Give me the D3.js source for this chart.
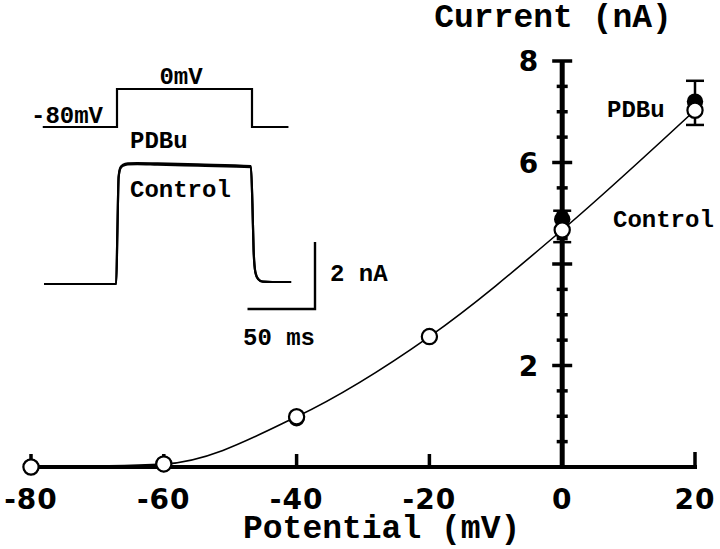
<!DOCTYPE html>
<html>
<head>
<meta charset="utf-8">
<script src="https://cdn.jsdelivr.net/npm/d3@7"></script>
<style>
  html, body { margin: 0; padding: 0; background: #fff; }
  svg { display: block; }
  .mono { font-family: "Liberation Mono", "DejaVu Sans Mono", monospace; font-weight: bold; fill: #000; }
  .tick { font-family: "DejaVu Sans", sans-serif; font-weight: bold; fill: #000; }
</style>
</head>
<body>
<svg id="chart" width="720" height="549"></svg>
<script>
// ---------------- data ----------------
const potentials = [-80, -60, -40, -20, 0, 20];                 // mV
const controlCurrent = [0, 0.06, 0.99, 2.57, 4.67, 7.03];       // nA
const pdbuCurrent    = [0, 0.06, 0.96, 2.57, 4.88, 7.20];       // nA
const controlErrLow  = [0, 0, 0, 0, 0.24, 0.29];                // nA (below)
const pdbuErrHigh    = [0, 0, 0, 0, 0.17, 0.41];                // nA (above)

const xTicks = [-80, -60, -40, -20, 0, 20];
const xTickLabels = ["-80", "-60", "-40", "-20", "0", "20"];
const yMajorTicks = [2, 4, 6, 8];
const yMinorTicks = [0.5, 1, 1.5, 2.5, 3, 3.5, 4.5, 5, 5.5, 6.5, 7, 7.5];
const yTickValues = [2, 6, 8];
const yTickLabels = ["2", "6", "8"];

// inset: voltage protocol (ms, mV)
const protoTime    = [-55, 0, 0, 100, 100, 127];
const protoVoltage = [-80, -80, 0, 0, -80, -80];
// inset: current traces (ms, nA)
const traceTime = [-54, -0.6, 0.3, 1.2, 2.5, 4.5, 8, 15, 30, 60, 99.2, 100.3, 101.2, 102.5, 104.5, 108, 115, 129];
const tracePDBu    = [0, 0, 1.6, 3.2, 3.48, 3.56, 3.6, 3.61, 3.6, 3.57, 3.52, 2.4, 1.0, 0.35, 0.15, 0.07, 0.06, 0.06];
const traceControl = [0, 0, 1.6, 3.18, 3.45, 3.53, 3.57, 3.58, 3.56, 3.53, 3.49, 2.4, 1.0, 0.35, 0.15, 0.07, 0.06, 0.06];
const scaleBarTime = 50;   // ms
const scaleBarCurrent = 2; // nA

// ---------------- layout ----------------
const svg = d3.select("#chart");
const x = d3.scaleLinear().domain([-80, 20]).range([31, 695]);
const y = d3.scaleLinear().domain([0, 8]).range([467, 61]);

// x axis line
svg.append("line")
  .attr("x1", x(-80)).attr("x2", x(20) + 2)
  .attr("y1", y(0)).attr("y2", y(0))
  .attr("stroke", "#000").attr("stroke-width", 4);

// x ticks (upward)
svg.selectAll(".xt").data(xTicks.filter(v => v !== 0)).enter().append("line")
  .attr("class", "xt")
  .attr("x1", d => x(d)).attr("x2", d => x(d))
  .attr("y1", y(0)).attr("y2", d => y(0) - (d === 20 ? 15 : 13))
  .attr("stroke", "#000").attr("stroke-width", 3.5);

// x tick labels
svg.selectAll(".xl").data(xTicks).enter().append("text")
  .attr("class", "tick xl")
  .attr("x", d => x(d)).attr("y", 509)
  .attr("text-anchor", "middle")
  .attr("font-size", 28)
  .attr("letter-spacing", 1)
  .text((d, i) => xTickLabels[i]);

// y axis line
svg.append("line")
  .attr("x1", x(0)).attr("x2", x(0))
  .attr("y1", y(0) + 2).attr("y2", y(8))
  .attr("stroke", "#000").attr("stroke-width", 5);

// y major ticks
svg.selectAll(".ymj").data(yMajorTicks).enter().append("line")
  .attr("class", "ymj")
  .attr("x1", x(0) - 10).attr("x2", x(0) + 10)
  .attr("y1", d => y(d)).attr("y2", d => y(d))
  .attr("stroke", "#000").attr("stroke-width", 3.5);

// y minor ticks
svg.selectAll(".ymn").data(yMinorTicks).enter().append("line")
  .attr("class", "ymn")
  .attr("x1", x(0) - 5.5).attr("x2", x(0) + 5.5)
  .attr("y1", d => y(d)).attr("y2", d => y(d))
  .attr("stroke", "#000").attr("stroke-width", 3.5);

// y tick labels
svg.selectAll(".yl").data(yTickValues).enter().append("text")
  .attr("class", "tick yl")
  .attr("x", x(0) - 24).attr("y", d => y(d) + 10)
  .attr("text-anchor", "end")
  .attr("font-size", 28)
  .text((d, i) => yTickLabels[i]);

// axis titles
svg.append("text").attr("class", "mono")
  .attr("x", 553).attr("y", 27).attr("text-anchor", "middle")
  .attr("font-size", 33).text("Current (nA)");
svg.append("text").attr("class", "mono")
  .attr("x", 243).attr("y", 538)
  .attr("font-size", 33).text("Potential (mV)");

// fitted line through control points
const pts = potentials.map((p, i) => [p, controlCurrent[i]]);
svg.append("path")
  .attr("d", d3.line().x(d => x(d[0])).y(d => y(d[1])).curve(d3.curveMonotoneX)(pts))
  .attr("fill", "none").attr("stroke", "#000").attr("stroke-width", 1.6);

// error bars
const capW = 9;
potentials.forEach((p, i) => {
  if (pdbuErrHigh[i] > 0) {
    const top = pdbuCurrent[i] + pdbuErrHigh[i];
    svg.append("line").attr("x1", x(p)).attr("x2", x(p))
      .attr("y1", y(pdbuCurrent[i])).attr("y2", y(top))
      .attr("stroke", "#000").attr("stroke-width", 2.5);
    svg.append("line").attr("x1", x(p) - capW).attr("x2", x(p) + capW)
      .attr("y1", y(top)).attr("y2", y(top))
      .attr("stroke", "#000").attr("stroke-width", 2.5);
  }
  if (controlErrLow[i] > 0) {
    const bot = controlCurrent[i] - controlErrLow[i];
    svg.append("line").attr("x1", x(p)).attr("x2", x(p))
      .attr("y1", y(controlCurrent[i])).attr("y2", y(bot))
      .attr("stroke", "#000").attr("stroke-width", 2.5);
    svg.append("line").attr("x1", x(p) - capW).attr("x2", x(p) + capW)
      .attr("y1", y(bot)).attr("y2", y(bot))
      .attr("stroke", "#000").attr("stroke-width", 2.5);
  }
});

// PDBu filled circles
svg.selectAll(".pd").data(potentials).enter().append("circle")
  .attr("class", "pd")
  .attr("cx", d => x(d)).attr("cy", (d, i) => y(pdbuCurrent[i]))
  .attr("r", 8.2).attr("fill", "#000");

// Control open circles
svg.selectAll(".ct").data(potentials).enter().append("circle")
  .attr("class", "ct")
  .attr("cx", d => x(d)).attr("cy", (d, i) => y(controlCurrent[i]))
  .attr("r", 7.6).attr("fill", "#fff").attr("stroke", "#000").attr("stroke-width", 2.2);

// right-side labels
svg.append("text").attr("class", "mono").attr("x", 607).attr("y", 117)
  .attr("font-size", 24).text("PDBu");
svg.append("text").attr("class", "mono").attr("x", 613).attr("y", 227)
  .attr("font-size", 24).text("Control");

// ---------------- inset ----------------
const tx = d3.scaleLinear().domain([0, 100]).range([117, 252]);
const vy = d3.scaleLinear().domain([-80, 0]).range([127, 89]);
const iy = d3.scaleLinear().domain([0, 2]).range([284, 217]);

svg.append("path")
  .attr("d", d3.line().x((d, i) => tx(protoTime[i])).y(d => vy(d))(protoVoltage))
  .attr("fill", "none").attr("stroke", "#000").attr("stroke-width", 2.2);

const traceLine = d3.line().x((d, i) => tx(traceTime[i])).y(d => iy(d)).curve(d3.curveMonotoneX);
svg.append("path").attr("d", traceLine(traceControl))
  .attr("fill", "none").attr("stroke", "#000").attr("stroke-width", 2.2);
svg.append("path").attr("d", traceLine(tracePDBu))
  .attr("fill", "none").attr("stroke", "#000").attr("stroke-width", 2.2);

// scale bars
const sbX = 315, sbY = 309;
svg.append("path")
  .attr("d", `M${sbX - (tx(scaleBarTime) - tx(0))},${sbY}H${sbX}V${sbY - (iy(0) - iy(scaleBarCurrent))}`)
  .attr("fill", "none").attr("stroke", "#000").attr("stroke-width", 2.4);

svg.append("text").attr("class", "mono").attr("x", 181).attr("y", 84)
  .attr("text-anchor", "middle").attr("font-size", 24).text("0mV");
svg.append("text").attr("class", "mono").attr("x", 103).attr("y", 123)
  .attr("text-anchor", "end").attr("font-size", 24).text("-80mV");
svg.append("text").attr("class", "mono").attr("x", 130).attr("y", 148)
  .attr("font-size", 24).text("PDBu");
svg.append("text").attr("class", "mono").attr("x", 130).attr("y", 197)
  .attr("font-size", 24).text("Control");
svg.append("text").attr("class", "mono").attr("x", 330).attr("y", 281)
  .attr("font-size", 24).text("2 nA");
svg.append("text").attr("class", "mono").attr("x", 243).attr("y", 345)
  .attr("font-size", 24).text("50 ms");
</script>
</body>
</html>
